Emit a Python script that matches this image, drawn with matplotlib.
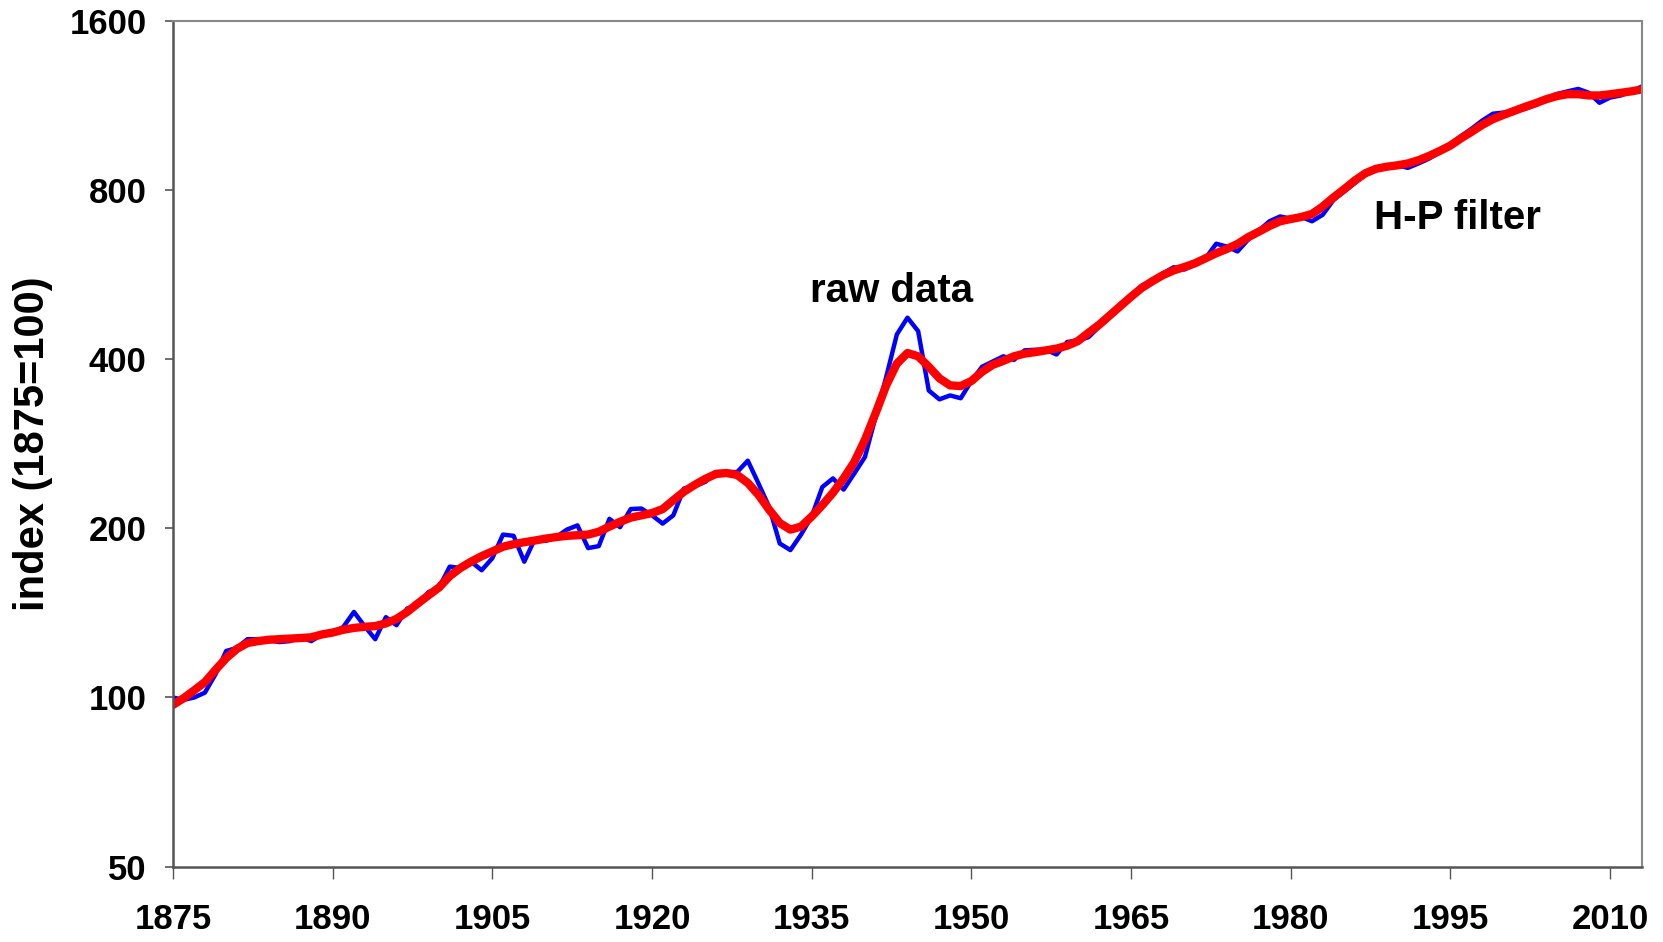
import numpy as np
import matplotlib.pyplot as plt

plt.rcParams['font.family'] = ['Liberation Sans', 'DejaVu Sans']
plt.rcParams['font.weight'] = 'bold'

years = list(range(1875, 2014))

raw_data = [
    100, 99, 100, 102, 110, 121, 122.5, 127, 127, 126.5,
    125.5, 126, 128, 126, 129.5, 130.5, 133.5, 142, 134, 127,
    139, 134.5, 144, 146, 154, 157, 171, 170, 174.5, 168.5,
    177, 195, 194, 174.5, 191.5, 190, 193, 199, 202.5, 184.5,
    186, 208, 201, 216.5, 217, 211, 204, 211, 235.5, 238,
    242, 252, 252, 252, 264, 240.5, 218.5, 188, 183, 195,
    210, 237, 245.5, 234.5, 250.5, 268, 316, 372, 443, 474.5,
    449, 352, 339.5, 345, 341, 366, 388, 396.5, 405, 399,
    415, 416, 416, 408, 429.5, 432, 438, 457, 475, 495,
    518, 541, 551, 569, 583.5, 578, 589.5, 605.5, 642.5, 635,
    622.5, 653.5, 678, 704.5, 718.5, 712, 717, 704.5, 723.5, 768,
    795.5, 823.5, 853, 873.5, 883.5, 886, 877, 893, 911, 936,
    967, 999, 1030, 1065, 1095, 1100, 1105, 1117, 1135, 1166,
    1187, 1200, 1212, 1193, 1145, 1170, 1180, 1198, 1225,
]

hp_filter = [
    97, 99.7, 103, 106.5, 112, 117.5, 122, 125, 126, 126.7,
    127, 127.3, 127.6, 128, 129.5, 130.5, 132, 133, 133.6, 134,
    135.5, 138, 142, 147, 152, 157, 164.5, 170, 174.5, 178.5,
    182, 185.5, 187.5, 189, 190.3, 191.8, 193, 194, 194.5, 195,
    197.3, 201.5, 205.5, 209, 211, 213, 216.5, 224.5, 232.5, 239,
    245, 250, 251, 249, 241, 229.5, 216, 204.5, 199, 201.5,
    210, 220, 231.5, 245.5, 262.5, 287.5, 320.5, 359.5, 393, 410.5,
    405, 388, 370, 359.5, 358.5, 366, 380, 391, 397.5, 405,
    409.5, 412, 415, 418, 423, 431, 446, 461, 479, 498,
    517, 536, 551, 565, 576, 584, 593, 605.5, 618, 629,
    642, 660, 675, 691, 704.5, 711, 717, 726, 748.5, 776.5,
    803, 832, 857.5, 873.5, 881, 886, 893, 905, 921, 940,
    961, 990, 1017, 1046, 1071, 1090, 1108, 1126, 1143, 1162,
    1177, 1186, 1186, 1180, 1180, 1186, 1193, 1200, 1210,
]

x_ticks = list(range(1875, 2011, 15))
y_ticks = [50, 100, 200, 400, 800, 1600]

fig = plt.figure(figsize=(16.63, 9.42), dpi=100)
ax = fig.add_axes([0.104, 0.0801, 0.8834, 0.8974])

ax.plot(years, raw_data, color='#0000FF', linewidth=3.2)
ax.plot(years, hp_filter, color='#FF0000', linewidth=6.0, solid_capstyle='round')

ax.set_yscale('log')
ax.set_ylim(50, 1600)
ax.set_xlim(1875, 2013)
ax.set_yticks(y_ticks)
ax.set_yticklabels([str(v) for v in y_ticks])
ax.yaxis.set_minor_locator(plt.NullLocator())
ax.set_xticks(x_ticks)
ax.set_xticklabels([str(v) for v in x_ticks])

ax.tick_params(axis='y', direction='out', length=6, width=1.2, color='#555555',
               pad=13, labelsize=25)
ax.tick_params(axis='x', direction='out', length=8.5, width=1.0, color='#555555',
               pad=18, labelsize=25)

for side in ['left', 'bottom']:
    ax.spines[side].set_color('#555555')
    ax.spines[side].set_linewidth(1.8)
for side in ['top', 'right']:
    ax.spines[side].set_color('#888888')
    ax.spines[side].set_linewidth(1.5)

ax.set_ylabel('index (1875=100)', fontsize=30, fontweight='bold', labelpad=12)

ax.text(1934.8, 530, 'raw data', fontsize=29, fontweight='bold', ha='left', va='center')
ax.text(1987.8, 715, 'H-P filter', fontsize=29, fontweight='bold', ha='left', va='center')

plt.savefig('out.png', dpi=100)
